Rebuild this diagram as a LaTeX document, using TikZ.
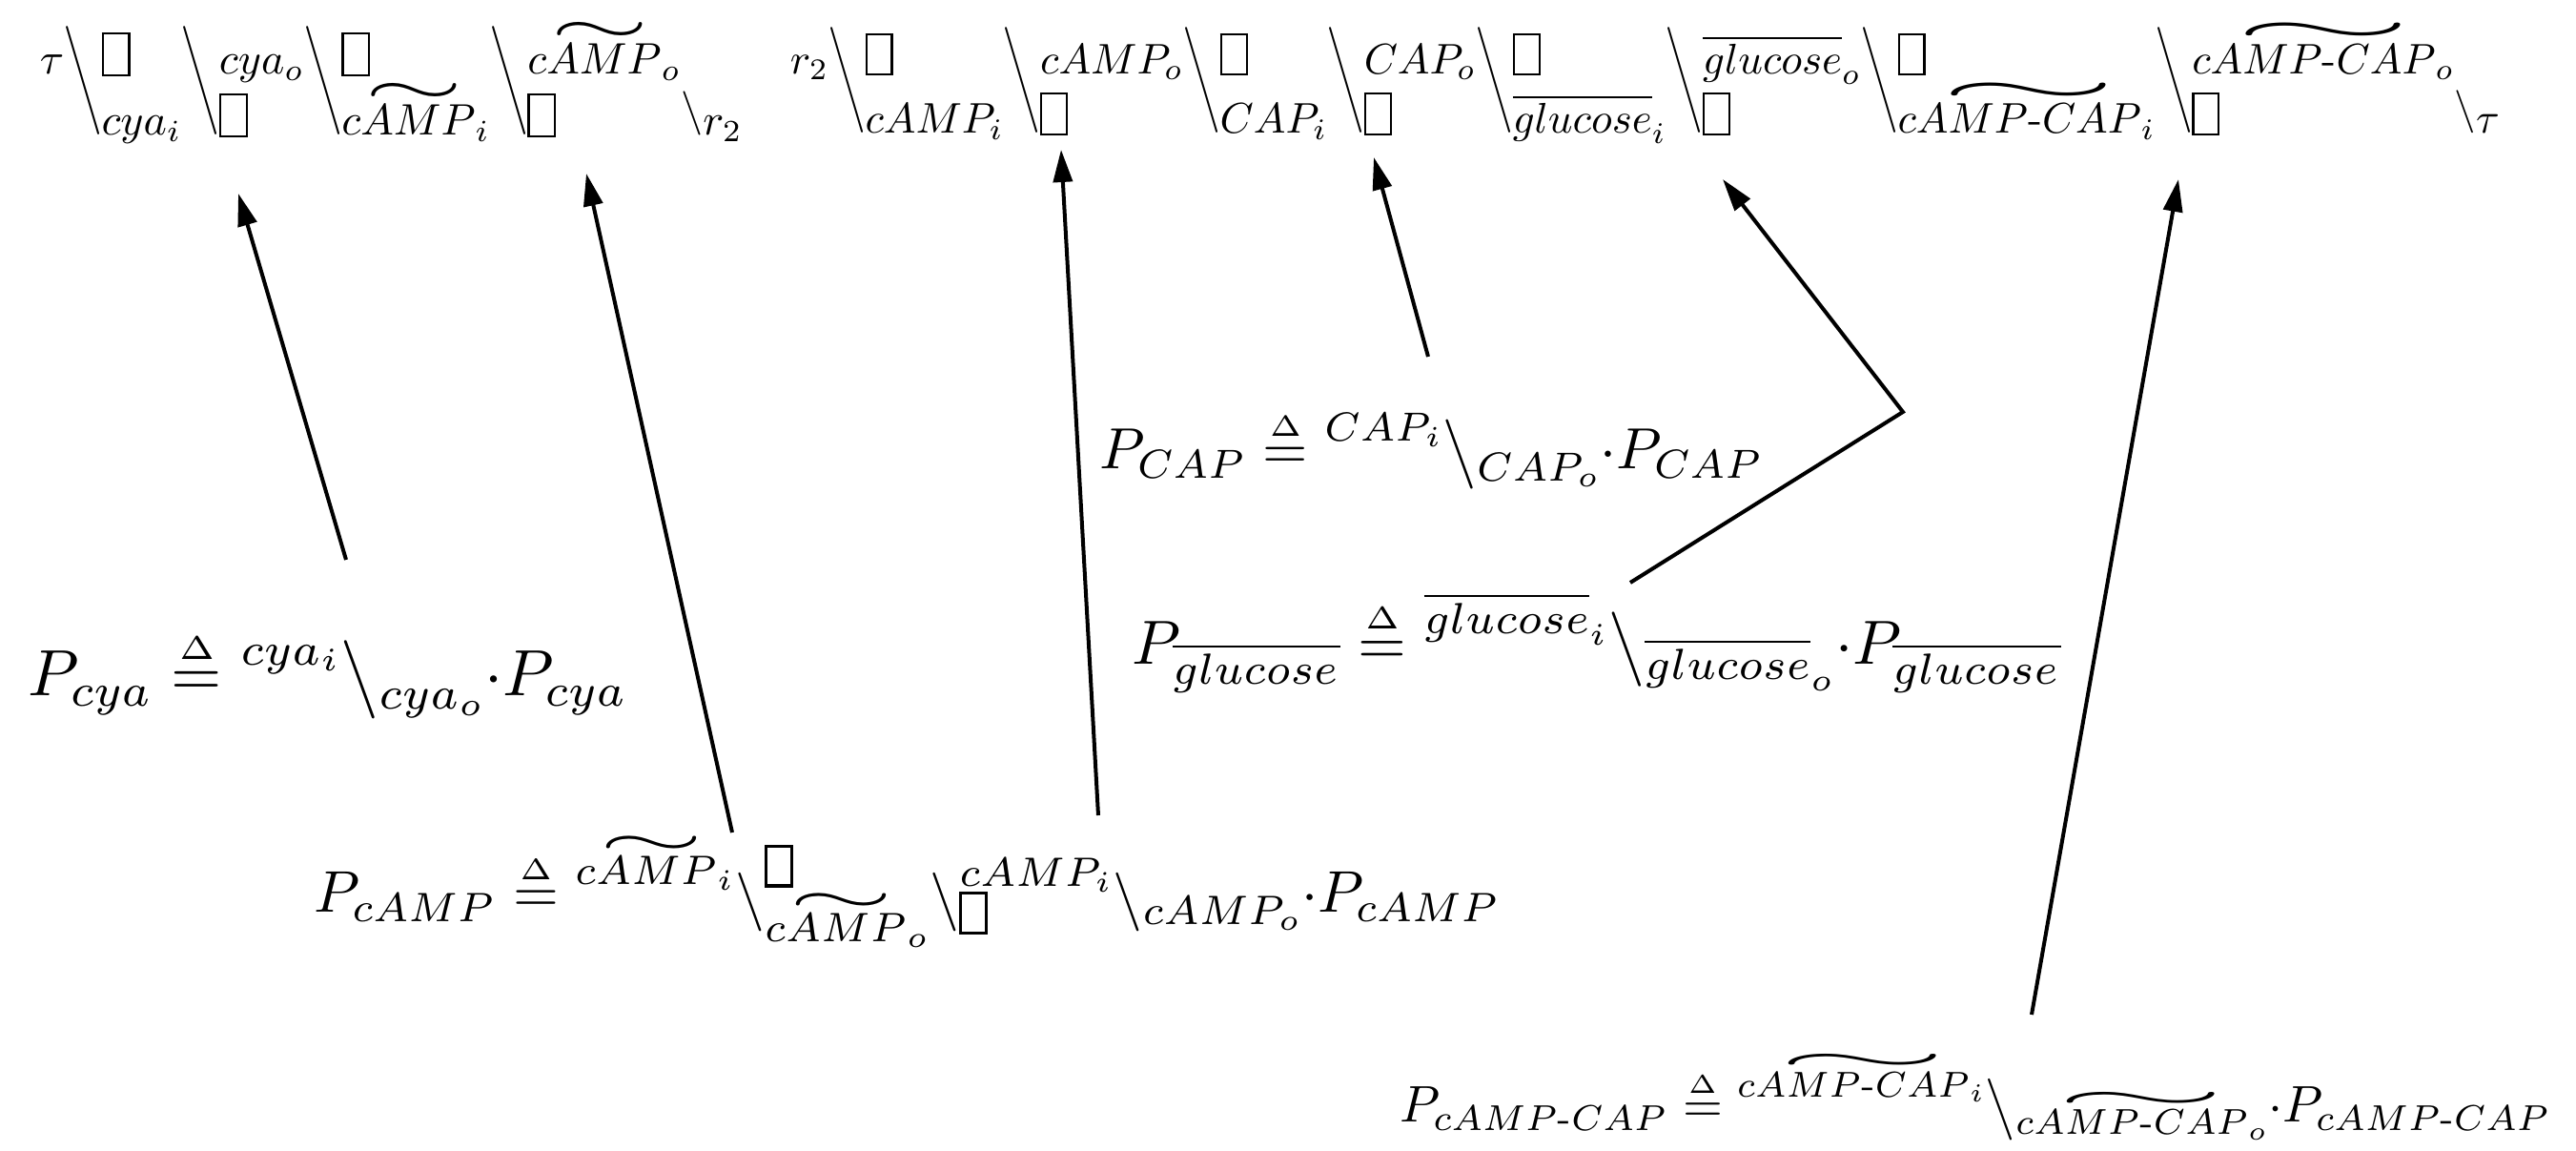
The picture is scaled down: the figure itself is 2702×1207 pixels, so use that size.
\documentclass[tikz,border=0pt]{standalone}
\usepackage{amsmath,amssymb}
\usetikzlibrary{arrows.meta}

\makeatletter
% empty slot drawn as an open rectangle
\newcommand\ebox{\text{\setlength\fboxsep{0pt}\setlength\fboxrule{0.5pt}\fbox{\rule{0pt}{0.9em}\hspace{0.55em}}}}
% wide wavy tilde over a name
\newlength\wtw \newlength\wth
\newcommand\wt[1]{{\mathpalette\wt@i{#1}}}
\newcommand\wt@i[2]{%
  \setbox\z@\hbox{$\m@th#1#2$}%
  \setlength\wtw{0.74\wd\z@}\setlength\wth{0.7\ht\z@}%
  \setbox\tw@\hbox{\resizebox{\wtw}{\wth}{$\m@th\sim$}}%
  \vbox{\offinterlineskip\moveright0.17\wd\z@\box\tw@\kern0.02\ht\z@\box\z@}}
\makeatother

% a raised or lowered piece of formula
\newcommand\at[2]{\raisebox{#1}{$#2$}}
% two items stacked in one column: #1 style, #2 upper, #3 its raise, #4 lower, #5 its raise
\newlength\cwa \newlength\cwb
\newcommand\stk[5]{%
  \settowidth\cwa{$#1#2$}\settowidth\cwb{$#1#4$}%
  \ifdim\cwb>\cwa \setlength\cwa{\cwb}\fi
  \makebox[\cwa][l]{\rlap{\raisebox{#3}{$#1#2$}}\raisebox{#5}{$#1#4$}}}
\newcommand\stkA[2]{\stk{\textstyle}{#1}{4.4pt}{#2}{-9.5pt}}
\newcommand\hi[2][0.48em]{\raisebox{#1}{$\scriptstyle #2$}}
\newcommand\lo[2][-0.2em]{\raisebox{#1}{$\scriptstyle #2$}}

% tall backslash of the chains: from the lower row's baseline up past the upper row
\newsavebox\bgbox
\newlength\bkw
\newcommand\bk{\makebox[\bkw][c]{\raisebox{-9.5pt}{%
  \resizebox{8.5pt}{24.7pt}{\raisebox{\depth}{\usebox\bgbox}}}}}
\newcommand\bkP{\raisebox{-0.08em}{$\backslash$}}
\newcommand\hy{\text{-}}
\newcommand\defeq{\mathrel{\overset{\scriptscriptstyle\Delta}{=}}}
\newcommand\glu{\overline{glucose}}
\newcommand\cc{cAMP\hy CAP}
\newcommand\dt{{\cdot}}

\tikzset{
  formula/.style={inner sep=0pt, anchor=base west},
  link/.style={line width=1pt, -{Triangle[length=8.5pt,width=5pt]}},
}

\begin{document}
\begin{tikzpicture}[x=0.25pt,y=-0.25pt]
\sbox\bgbox{$\bigg\backslash$}
\setlength\bkw{\wd\bgbox}\addtolength\bkw{-1.9pt}
\useasboundingbox (0,0) rectangle (2702,1207);

% the two reaction chains along the top
\node[formula] (chainA) at (41,98) {\resizebox{184.25pt}{!}{$
  \at{4.4pt}{\tau}\bk\stkA{\ebox}{cya_i}\bk\stkA{cya_o}{\ebox}
  \bk\stkA{\ebox}{\wt{cAMP}_i}\bk\stkA{\wt{cAMP}_o}{\ebox}
  \at{-9.5pt}{\raisebox{0.25em}{$\backslash$}r_2}$}};
\node[formula] (chainB) at (828,97) {\resizebox{448.25pt}{!}{$
  \at{4.4pt}{r_2}\bk\stkA{\ebox}{cAMP_i}\bk\stkA{cAMP_o}{\ebox}
  \bk\stkA{\ebox}{CAP_i}\bk\stkA{CAP_o}{\ebox}
  \bk\stkA{\ebox}{\glu_i}\bk\stkA{\glu_o}{\ebox}
  \bk\stkA{\ebox}{\wt{\cc}_i}\bk\stkA{\wt{\cc}_o}{\ebox}
  \at{-9.5pt}{\raisebox{0.25em}{$\backslash$}\tau}$}};

% process definitions
\node[formula] (pcya) at (29,730) {\resizebox{157.25pt}{!}{$
  P_{cya}\defeq\hi{cya_i}\big\backslash\lo{cya_o}\dt P_{cya}$}};
\node[formula] (pcap) at (1153,492) {\resizebox{174pt}{!}{$
  P_{CAP}\defeq\hi{CAP_i}\big\backslash\lo{CAP_o}\dt P_{CAP}$}};
\node[formula] (pglu) at (1187,697) {\resizebox{243.5pt}{!}{$
  P_{\glu}\defeq\hi[0.5em]{\glu_i}\big\backslash\lo[-0.24em]{\glu_o}\dt P_{\glu}$}};
\node[formula] (pcamp) at (329,957) {\resizebox{311pt}{!}{$
  P_{cAMP}\defeq\hi{\wt{cAMP}_i}\bkP
  \stk{\scriptstyle}{\ebox}{0.48em}{\wt{cAMP}_o}{-0.5em}\bkP
  \stk{\scriptstyle}{cAMP_i}{0.45em}{\ebox}{-0.32em}\bkP
  \lo{cAMP_o}\dt P_{cAMP}$}};
\node[formula] (pcc) at (1468,1177) {\resizebox{301.75pt}{!}{$
  P_{\cc}\defeq\hi[0.5em]{\wt{\cc}_i}\big\backslash\lo[-0.24em]{\wt{\cc}_o}\dt P_{\cc}$}};

% connector ends
\coordinate (cyaTail) at (363,587);   \coordinate (cyaTip) at (250,203);
\coordinate (campTailA) at (768,873); \coordinate (campTipA) at (615,182);
\coordinate (campTailB) at (1152,855);\coordinate (campTipB) at (1113,157);
\coordinate (capTail) at (1498,374);  \coordinate (capTip) at (1441,165);
\coordinate (gluTail) at (1710,611);  \coordinate (gluBend) at (1996,432);
\coordinate (gluTip) at (1807,188);
\coordinate (ccTail) at (2131,1064);  \coordinate (ccTip) at (2285,188);

\draw[link] (cyaTail) -- (cyaTip);
\draw[link] (campTailA) -- (campTipA);
\draw[link] (campTailB) -- (campTipB);
\draw[link] (capTail) -- (capTip);
\draw[link] (gluTail) -- (gluBend) -- (gluTip);
\draw[link] (ccTail) -- (ccTip);
\end{tikzpicture}
\end{document}
